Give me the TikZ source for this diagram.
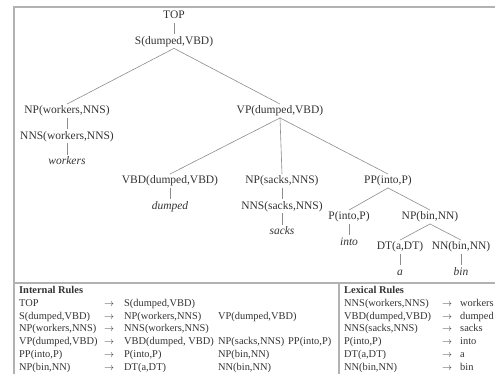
\documentclass[tikz,border=0pt]{standalone}
\usepackage{fontspec}
\setmainfont{Liberation Serif}
\usetikzlibrary{positioning}
\begin{document}
\begin{tikzpicture}[
        x=1pt, y=-1pt,
        node distance=11.5pt,
        lab/.style={font=\fontsize{11.5}{13}\selectfont, text=black!80, inner sep=1.5pt, text height=8pt, text depth=2.5pt},
        word/.style={lab, font=\fontsize{11.5}{13}\selectfont\itshape},
        edge/.style={draw=black!45, line width=0.6pt},
        rl/.style={anchor=base west, inner sep=0pt, font=\fontsize{10.4}{12}\selectfont, text=black!80},
        head/.style={rl, font=\fontsize{10.4}{12}\selectfont\bfseries},
        frame/.style={draw=black!30, line width=1.2pt},
    ]
        \useasboundingbox (0,0) rectangle (495,374);
        % Frame and separators
        \draw[frame] (14,374) -- (14,7) -- (495,7);
        \draw[frame, line width=2.2pt] (14,283) -- (495,283);
        \draw[frame] (339,284) -- (339,374);

        % Tree
        \node[lab] (top) at (174,16) {TOP};
        \node[lab, below=of top] (s) {S(dumped,VBD)};
        \node[lab] (npw) at (67,111) {NP(workers,NNS)};
        \node[lab, below=of npw] (nnsw) {NNS(workers,NNS)};
        \node[word, below=of nnsw] (workers) {workers};
        \node[lab] (vp) at (280,111) {VP(dumped,VBD)};
        \node[lab] (vbd) at (170,181) {VBD(dumped,VBD)};
        \node[word, below=of vbd] (dumped) {dumped};
        \node[lab] (nps) at (282,181) {NP(sacks,NNS)};
        \node[lab, below=of nps] (nnss) {NNS(sacks,NNS)};
        \node[word, below=of nnss] (sacks) {sacks};
        \node[lab] (pp) at (388,181) {PP(into,P)};
        \node[lab] (p) at (349,217) {P(into,P)};
        \node[word, below=of p] (into) {into};
        \node[lab] (npb) at (430,217) {NP(bin,NN)};
        \node[lab] (dt) at (400,247) {DT(a,DT)};
        \node[word, below=of dt] (a) {a};
        \node[lab] (nn) at (461,247) {NN(bin,NN)};
        \node[word, below=of nn] (bin) {bin};

        \draw[edge] (top) -- (s);
        \draw[edge] (s.south) -- (npw.north);
        \draw[edge] (s.south) -- (vp.north);
        \draw[edge] (npw) -- (nnsw);
        \draw[edge] (nnsw) -- (workers);
        \draw[edge] (vp.south) -- (vbd.north);
        \draw[edge] (vp.south) -- (nps.north);
        \draw[edge] (vp.south) -- (pp.north);
        \draw[edge] (vbd) -- (dumped);
        \draw[edge] (nps) -- (nnss);
        \draw[edge] (nnss) -- (sacks);
        \draw[edge] (pp.south) -- (p.north);
        \draw[edge] (pp.south) -- (npb.north);
        \draw[edge] (p) -- (into);
        \draw[edge] (npb.south) -- (dt.north);
        \draw[edge] (npb.south) -- (nn.north);
        \draw[edge] (dt) -- (a);
        \draw[edge] (nn) -- (bin);

        % Internal rules
        \node[head] (ihead) at (19,293.5) {Internal Rules};
        \node[rl] (i1a) at (19,306.3) {TOP};
        \node[rl] (i1b) at (104,306.3) {$\rightarrow$};
        \node[rl] (i1c) at (124,306.3) {S(dumped,VBD)};
        \node[rl] (i2a) at (19,319.1) {S(dumped,VBD)};
        \node[rl] (i2b) at (104,319.1) {$\rightarrow$};
        \node[rl] (i2c) at (124,319.1) {NP(workers,NNS)};
        \node[rl] (i2d) at (218,319.1) {VP(dumped,VBD)};
        \node[rl] (i3a) at (19,331.9) {NP(workers,NNS)};
        \node[rl] (i3b) at (104,331.9) {$\rightarrow$};
        \node[rl] (i3c) at (124,331.9) {NNS(workers,NNS)};
        \node[rl] (i4a) at (19,344.7) {VP(dumped,VBD)};
        \node[rl] (i4b) at (104,344.7) {$\rightarrow$};
        \node[rl] (i4c) at (124,344.7) {VBD(dumped, VBD)};
        \node[rl] (i4d) at (218,344.7) {NP(sacks,NNS)};
        \node[rl] (i4e) at (288,344.7) {PP(into,P)};
        \node[rl] (i5a) at (19,357.5) {PP(into,P)};
        \node[rl] (i5b) at (104,357.5) {$\rightarrow$};
        \node[rl] (i5c) at (124,357.5) {P(into,P)};
        \node[rl] (i5d) at (218,357.5) {NP(bin,NN)};
        \node[rl] (i6a) at (19,370.3) {NP(bin,NN)};
        \node[rl] (i6b) at (104,370.3) {$\rightarrow$};
        \node[rl] (i6c) at (124,370.3) {DT(a,DT)};
        \node[rl] (i6d) at (218,370.3) {NN(bin,NN)};

        % Lexical rules
        \node[head] (lhead) at (344,293.5) {Lexical Rules};
        \node[rl] (l1a) at (344,306.3) {NNS(workers,NNS)};
        \node[rl] (l1b) at (442,306.3) {$\rightarrow$};
        \node[rl] (l1c) at (460,306.3) {workers};
        \node[rl] (l2a) at (344,319.1) {VBD(dumped,VBD)};
        \node[rl] (l2b) at (442,319.1) {$\rightarrow$};
        \node[rl] (l2c) at (460,319.1) {dumped};
        \node[rl] (l3a) at (344,331.9) {NNS(sacks,NNS)};
        \node[rl] (l3b) at (442,331.9) {$\rightarrow$};
        \node[rl] (l3c) at (460,331.9) {sacks};
        \node[rl] (l4a) at (344,344.7) {P(into,P)};
        \node[rl] (l4b) at (442,344.7) {$\rightarrow$};
        \node[rl] (l4c) at (460,344.7) {into};
        \node[rl] (l5a) at (344,357.5) {DT(a,DT)};
        \node[rl] (l5b) at (442,357.5) {$\rightarrow$};
        \node[rl] (l5c) at (460,357.5) {a};
        \node[rl] (l6a) at (344,370.3) {NN(bin,NN)};
        \node[rl] (l6b) at (442,370.3) {$\rightarrow$};
        \node[rl] (l6c) at (460,370.3) {bin};
    \end{tikzpicture}
\end{document}
